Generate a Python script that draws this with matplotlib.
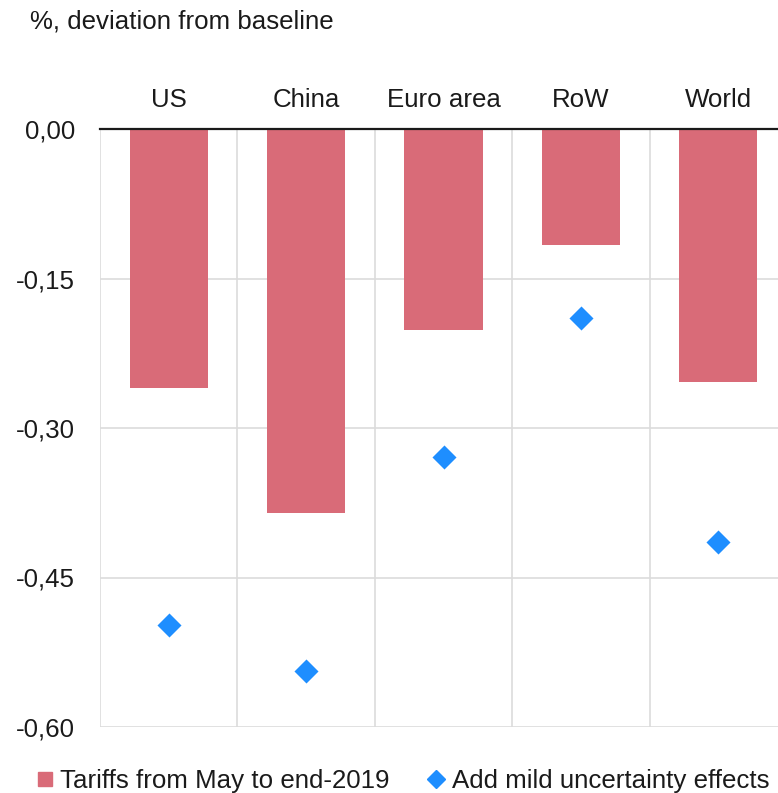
import numpy as np
import matplotlib
matplotlib.use("Agg")
import matplotlib.pyplot as plt
from matplotlib.lines import Line2D
from matplotlib.ticker import FuncFormatter

plt.rcParams['font.family'] = ['Liberation Sans', 'DejaVu Sans']

# data
regions = ["US", "China", "Euro area", "RoW", "World"]
tariffs = [-0.26, -0.385, -0.202, -0.116, -0.254]
uncertainty = [-0.498, -0.544, -0.329, -0.19, -0.414]
yticks = [0.0, -0.15, -0.30, -0.45, -0.60]

bar_col = "#D96B78"
dia_col = "#1E8EFF"
grid_col = "#DCDCDC"
fs = 18.6

fig = plt.figure(figsize=(7.78, 7.93), dpi=100)
ax = fig.add_axes([100/778, 1-727/793, 687/778, 598/793])

x = np.arange(len(regions))
ax.bar(x, tariffs, width=0.57, color=bar_col, zorder=2)
ax.scatter(x, uncertainty, marker="D", s=150, color=dia_col, zorder=3, linewidths=0)

ax.set_xlim(-0.5, len(regions) - 0.5)
ax.set_ylim(-0.60, 0.0)
ax.set_yticks(yticks)
ax.yaxis.set_major_formatter(FuncFormatter(lambda v, p: f"{v:.2f}".replace(".", ",").replace("-0,00", "0,00")))
ax.tick_params(axis="y", length=0, pad=18, labelsize=fs, colors="#1a1a1a")

# category labels on top
ax.xaxis.tick_top()
ax.set_xticks(x)
ax.set_xticklabels(regions)
ax.tick_params(axis="x", which="major", length=0, pad=12, labelsize=fs, colors="#1a1a1a")
ax.set_xticks(np.arange(-0.5, len(regions)), minor=True)
ax.tick_params(axis="x", which="minor", length=0)
ax.grid(axis="x", which="minor", color=grid_col, lw=1.2, zorder=0)
ax.grid(axis="y", which="major", color=grid_col, lw=1.2, zorder=0)

for s in ["right", "bottom", "left"]:
    ax.spines[s].set_visible(False)
ax.spines["top"].set_color("#1a1a1a")
ax.spines["top"].set_linewidth(1.6)
ax.spines["top"].set_zorder(4)

fig.text(30/778, 1-22/793, "%, deviation from baseline", fontsize=fs,
         color="#1a1a1a", va="center", ha="left")

handles = [
    Line2D([], [], marker="s", ls="none", color=bar_col, markersize=10),
    Line2D([], [], marker="D", ls="none", color=dia_col, markersize=9),
]
fig.legend(handles, ["Tariffs from May to end-2019", "Add mild uncertainty effects"],
           loc="center", bbox_to_anchor=(0.518, 1-781/793), ncol=2, frameon=False,
           fontsize=fs, handlelength=0.6, handletextpad=0.3, columnspacing=1.5,
           labelcolor="#1a1a1a")

fig.savefig("out.png", dpi=100)
